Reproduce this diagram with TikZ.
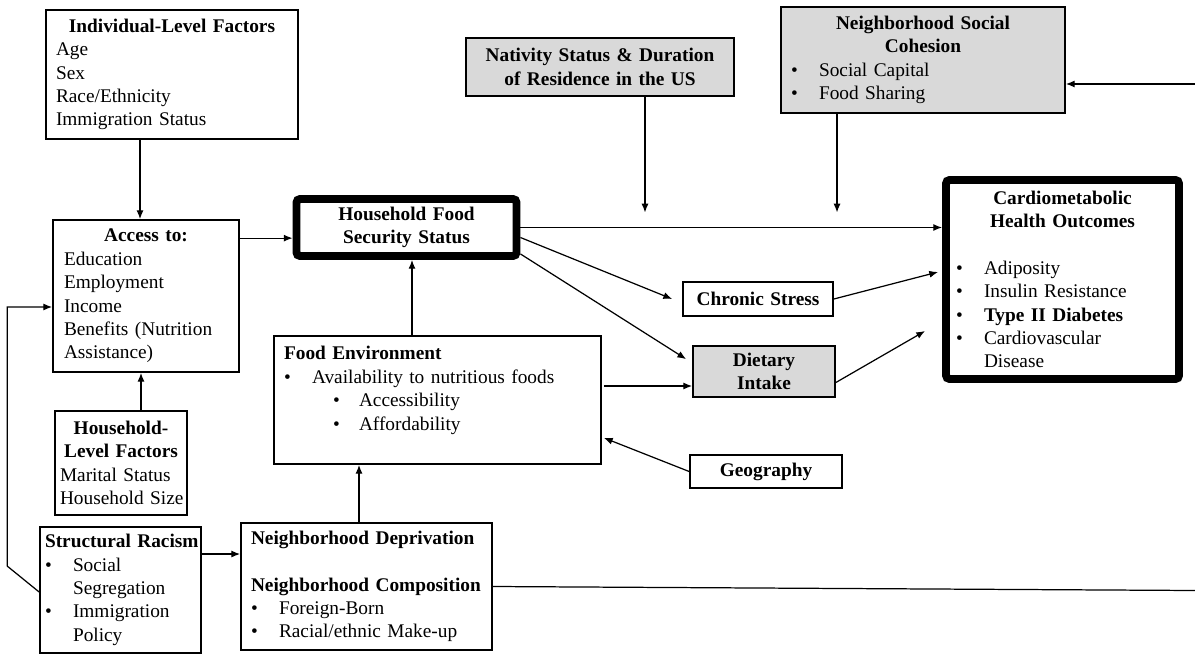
\documentclass[tikz,border=0pt]{standalone}
\usepackage{fontspec}
\setmainfont{Liberation Serif}
\usetikzlibrary{positioning,arrows.meta}
\definecolor{boxgrey}{HTML}{D9D9D9}
\newcommand{\blt}[1]{\makebox[0.56cm][l]{\textbullet}#1}
\newcommand{\sblt}[1]{\hspace*{0.98cm}\makebox[0.52cm][l]{\textbullet}#1}
\newcommand{\hang}{\hspace*{0.56cm}}

\begin{document}
\begin{tikzpicture}[x=0.02cm, y=-0.02cm,
    every node/.style={font=\fontsize{11}{13.3}\selectfont},
    titletext/.style={font=\fontsize{11}{13.3}\selectfont\bfseries},
    box/.style={draw, line width=1pt, inner xsep=0.2cm, inner ysep=0pt, align=left},
    greybox/.style={box, fill=boxgrey},
    heavybox/.style={draw, line width=4.5pt, rounded corners=2pt, inner xsep=0.2cm, inner ysep=0pt},
    arr/.style={-{Latex[length=5pt,width=4pt]}, line width=0.7pt},
    link/.style={line width=0.7pt}]

    \useasboundingbox (0,0) rectangle (1195,655);

    % Upper row
    \node[box, text width=4.64cm, minimum width=5.04cm, minimum height=2.58cm] (indiv) at (172,74.5)
        {{\centering\bfseries Individual-Level Factors\par}Age\\Sex\\Race/Ethnicity\\Immigration Status};
    \node[greybox, titletext, align=center, text width=4.96cm, minimum width=5.36cm, minimum height=1.16cm] (nativity) at (600,67)
        {Nativity Status \& Duration\\of Residence in the US};
    \node[greybox, text width=5.28cm, minimum width=5.68cm, minimum height=2.12cm] (cohesion) at (923,60)
        {{\centering\bfseries Neighborhood Social\\Cohesion\par}\blt{Social Capital}\\\blt{Food Sharing}};

    % Middle row
    \node[box, text width=3.28cm, minimum width=3.72cm, minimum height=3.04cm] (access) at (146,296)
        {{\centering\bfseries Access to:\par}Education\\Employment\\Income\\Benefits (Nutrition\\Assistance)};
    \node[heavybox, titletext, align=center, text width=4cm, minimum width=4.38cm, minimum height=1.14cm] (hfs) at (406.5,227.5)
        {Household Food\\Security Status};
    \node[heavybox, align=left, text width=4.26cm, minimum width=4.66cm, minimum height=3.98cm] (cardio) at (1062.5,279.5)
        {{\centering\bfseries Cardiometabolic\\Health Outcomes\par}\mbox{}\\\blt{Adiposity}\\\blt{Insulin Resistance}\\\blt{\textbf{Type II Diabetes}}\\\blt{Cardiovascular}\\\hang Disease};
    \node[box, titletext, align=center, text width=2.6cm, minimum width=3cm, minimum height=0.68cm] (stress) at (758,299)
        {Chronic Stress};
    \node[greybox, titletext, align=center, text width=2.44cm, minimum width=2.84cm, minimum height=1.02cm] (diet) at (764,371.5)
        {Dietary\\Intake};
    \node[box, text width=6.14cm, minimum width=6.54cm, minimum height=2.56cm] (fe) at (437.5,400)
        {\textbf{Food Environment}\\\blt{Availability to nutritious foods}\\\sblt{Accessibility}\\\sblt{Affordability}\\\mbox{}};
    \node[box, titletext, align=center, text width=2.64cm, minimum width=3.04cm, minimum height=0.66cm] (geog) at (766,471.5)
        {Geography};

    % Lower row
    \node[box, inner xsep=0.1cm, text width=2.44cm, minimum width=2.64cm, minimum height=2.08cm] (hh) at (121,463)
        {{\centering\bfseries Household-\\Level Factors\par}\mbox{Marital Status}\\\mbox{Household Size}};
    \node[box, inner xsep=0.1cm, text width=3.02cm, minimum width=3.22cm, minimum height=2.52cm] (racism) at (120.5,590)
        {\mbox{\textbf{Structural Racism}}\\\blt{Social}\\\hang Segregation\\\blt{Immigration}\\\hang Policy};
    \node[box, text width=4.62cm, minimum width=5.02cm, minimum height=2.54cm] (nbhd) at (366.5,586.5)
        {\textbf{Neighborhood Deprivation}\\\mbox{}\\\textbf{Neighborhood Composition}\\\blt{Foreign-Born}\\\blt{Racial/ethnic Make-up}};

    % Anchor points
    \coordinate (eastrim) at (1195,0);
    \coordinate (i1) at ([xshift=-0.64cm]indiv.south);
    \coordinate (a1) at ([yshift=-0.38cm]access.north east);
    \coordinate (a2) at ([yshift=-0.22cm]access.west);
    \coordinate (h1) at ([xshift=0.4cm]hh.north);
    \coordinate (r1) at ([yshift=-0.04cm]racism.west);
    \coordinate (r2) at ([yshift=0.72cm]racism.east);
    \coordinate (n1) at ([xshift=-0.15cm]nbhd.north);
    \coordinate (n2) at (nbhd.east -| eastrim);
    \coordinate (f1) at ([xshift=-0.51cm]fe.north);
    \coordinate (f2) at ([xshift=0.04cm,yshift=0.28cm]fe.east);
    \coordinate (nt) at ([xshift=0.9cm]nativity.south);
    \coordinate (nt2) at (nt |- hfs.east);
    \coordinate (ch) at ([xshift=-1.72cm]cohesion.south);
    \coordinate (ch2) at (ch |- hfs.east);
    \coordinate (c2) at ([yshift=-0.48cm]cohesion.east);

    % Arrows
    \draw[arr] (i1) -- (i1 |- access.north);
    \draw[arr] (a1) -- (a1 -| hfs.west);
    \draw[arr] (h1) -- (h1 |- access.south);
    \draw[arr] (r1) -- ++(-32,-26) |- (a2);
    \draw[arr] (r2) -- (r2 -| nbhd.west);
    \draw[arr] (n1) -- (n1 |- fe.south);
    \draw[arr] (f1) -- (f1 |- hfs.south);
    \draw[arr] (f2) -- (f2 -| diet.west);
    \draw[arr] (geog.west) -- ([xshift=0.04cm,yshift=0.54cm]fe.south east);
    \draw[arr] (hfs.east) -- (hfs.east -| cardio.west);
    \draw[arr] (nt) -- ([yshift=0.3cm]nt2);
    \draw[arr] (ch) -- ([yshift=0.3cm]ch2);
    \draw[arr] (c2 -| eastrim) -- (c2);
    \draw[arr] ([yshift=-0.2cm]hfs.east) -- ([xshift=-0.2cm]stress.west);
    \draw[arr] ([yshift=0.12cm]hfs.south east) -- ([xshift=-0.12cm,yshift=-0.28cm]diet.north west);
    \draw[arr] (stress.east) -- ([xshift=-0.08cm,yshift=0.15cm]cardio.west);
    \draw[arr] ([yshift=-0.22cm]diet.east) -- ([xshift=-0.34cm,yshift=-1.03cm]cardio.west);
    \draw[link] (nbhd.east) -- ([yshift=-0.08cm]n2);
\end{tikzpicture}
\end{document}
